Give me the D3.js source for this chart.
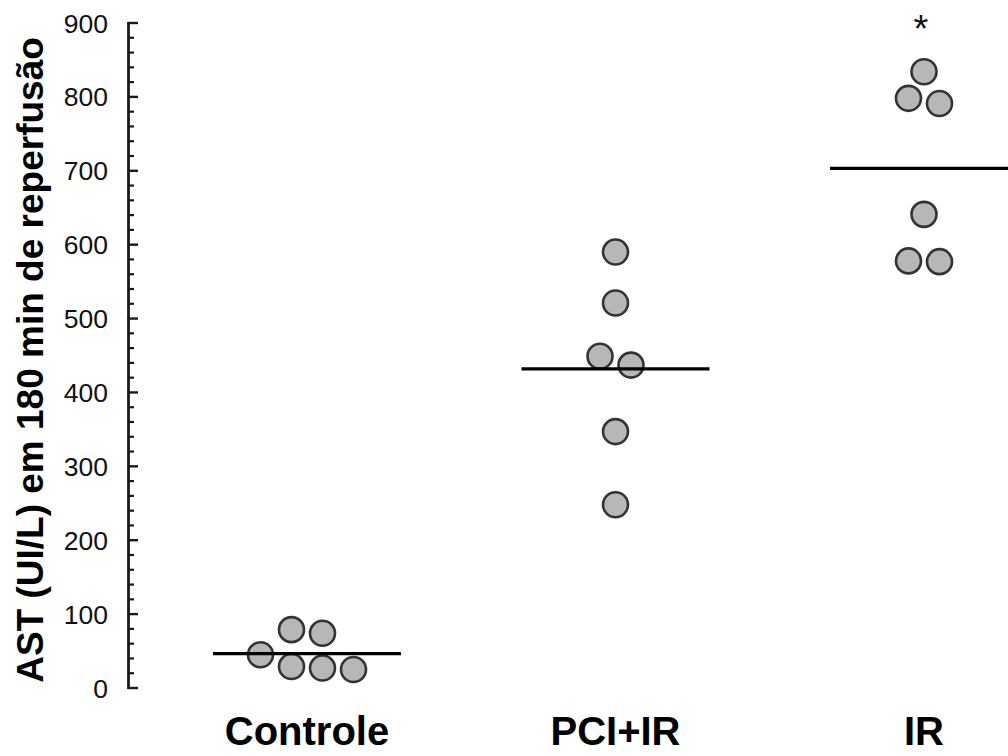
<!DOCTYPE html>
<html>
<head>
<meta charset="utf-8">
<script src="https://cdn.jsdelivr.net/npm/d3@7"></script>
<style>
  html, body { margin: 0; padding: 0; background: #fff; }
  svg { display: block; }
</style>
</head>
<body>
<svg id="chart" width="1008" height="756"></svg>
<script>
// Groups and AST values (UI/L) at 180 min of reperfusion
const categories = ["Controle", "PCI+IR", "IR"];
const controleValues = [45, 79, 74, 29, 27, 25];
const pciIrValues = [590, 521, 449, 437, 347, 248];
const irValues = [834, 798, 791, 641, 578, 577];
// Side-by-side arrangement of overlapping points (in point-widths from group centre)
const controleDodge = [-1.5, -0.5, 0.5, -0.5, 0.5, 1.5];
const pciIrDodge = [0, 0, -0.5, 0.5, 0, 0];
const irDodge = [0, -0.5, 0.5, 0, -0.5, 0.5];
const yTicks = [0, 100, 200, 300, 400, 500, 600, 700, 800, 900];
const significant = ["IR"];
const yTitle = "AST (UI/L) em 180 min de reperfusão";

const groups = [
  { name: categories[0], values: controleValues, dodge: controleDodge },
  { name: categories[1], values: pciIrValues, dodge: pciIrDodge },
  { name: categories[2], values: irValues, dodge: irDodge }
];

const svg = d3.select("#chart");
const axisX = 128.5;

const y = d3.scaleLinear().domain([0, 900]).range([688, 23]);
const x = d3.scalePoint().domain(categories).range([307, 924]);

const r = 12.5;
const step = 31;
const halfLine = 94;

// y axis line
svg.append("line")
  .attr("x1", axisX).attr("x2", axisX)
  .attr("y1", y(0) + 1).attr("y2", y(900) - 1)
  .attr("stroke", "#1a1a1a").attr("stroke-width", 2.8);

// minor ticks every 20
const minor = d3.range(0, 901, 20).filter(v => v % 100 !== 0);
svg.selectAll("line.minor").data(minor).join("line")
  .attr("class", "minor")
  .attr("x1", axisX).attr("x2", axisX + 5.5)
  .attr("y1", d => y(d)).attr("y2", d => y(d))
  .attr("stroke", "#1a1a1a").attr("stroke-width", 2.2);

// major ticks
svg.selectAll("line.major").data(yTicks).join("line")
  .attr("class", "major")
  .attr("x1", axisX - 1).attr("x2", axisX + 9.5)
  .attr("y1", d => y(d)).attr("y2", d => y(d))
  .attr("stroke", "#1a1a1a").attr("stroke-width", 2.4);

svg.selectAll("text.tick").data(yTicks).join("text")
  .attr("class", "tick")
  .attr("x", 108)
  .attr("y", d => y(d))
  .attr("dy", "0.36em")
  .attr("text-anchor", "end")
  .attr("font-family", "Liberation Sans, Arial, sans-serif")
  .attr("font-size", 26.5)
  .attr("fill", "#111")
  .text(d => d);

// y axis title
svg.append("text")
  .attr("transform", `translate(43, 360) rotate(-90)`)
  .attr("text-anchor", "middle")
  .attr("font-family", "Liberation Sans, Arial, sans-serif")
  .attr("font-weight", "bold")
  .attr("font-size", 37)
  .attr("fill", "#000")
  .text(yTitle);

// category labels
svg.selectAll("text.cat").data(categories).join("text")
  .attr("class", "cat")
  .attr("x", d => x(d))
  .attr("y", 745)
  .attr("text-anchor", "middle")
  .attr("font-family", "Liberation Sans, Arial, sans-serif")
  .attr("font-weight", "bold")
  .attr("font-size", 40)
  .attr("fill", "#000")
  .text(d => d);

// points
groups.forEach(g => {
  const pts = g.values.map((v, i) => ({ v, off: g.dodge[i] }));
  svg.append("g").selectAll("circle").data(pts).join("circle")
    .attr("cx", d => x(g.name) + d.off * step)
    .attr("cy", d => y(d.v))
    .attr("r", r)
    .attr("fill", "#b7b7b7")
    .attr("stroke", "#333")
    .attr("stroke-width", 2.6);
});

// mean lines
groups.forEach(g => {
  const m = d3.mean(g.values);
  svg.append("line")
    .attr("x1", x(g.name) - halfLine).attr("x2", x(g.name) + halfLine)
    .attr("y1", y(m)).attr("y2", y(m))
    .attr("stroke", "#000").attr("stroke-width", 3.3);
});

// significance marker
svg.selectAll("text.sig").data(significant).join("text")
  .attr("class", "sig")
  .attr("x", d => x(d) - 3)
  .attr("y", 42)
  .attr("text-anchor", "middle")
  .attr("font-family", "Liberation Sans, Arial, sans-serif")
  .attr("font-size", 38)
  .attr("fill", "#111")
  .text("*");
</script>
</body>
</html>
